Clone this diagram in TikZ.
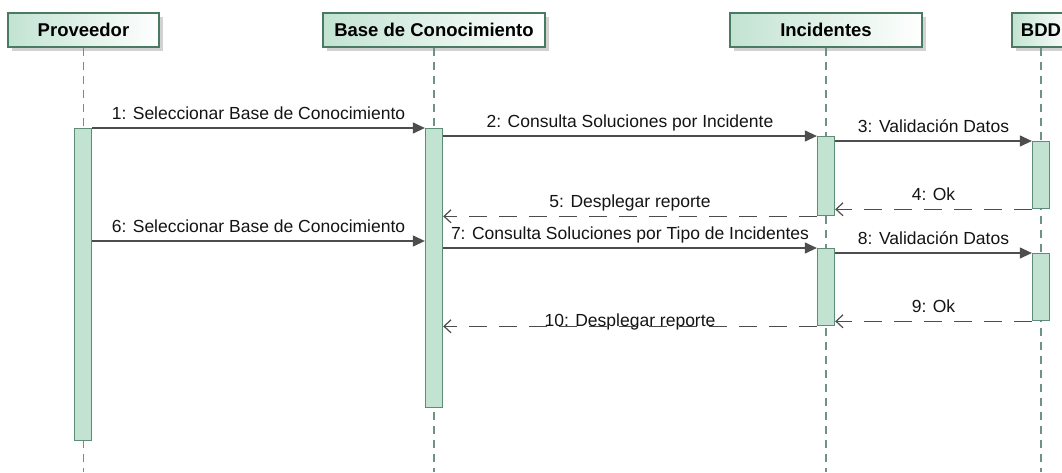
\documentclass[tikz,border=0pt]{standalone}
\usepackage{fontspec}
\setmainfont{Liberation Sans}
\usetikzlibrary{arrows.meta,shadows}
\definecolor{umlgreen}{HTML}{C2E3D2}
\definecolor{umlborder}{HTML}{4A7A64}
\definecolor{umlbar}{HTML}{5E8C77}
\definecolor{umllife}{HTML}{6E9284}
\definecolor{umlmsg}{HTML}{4D4D4D}
\begin{document}
\begin{tikzpicture}[
  x=1pt, y=-1pt,
  font={\fontsize{17.5}{20}\selectfont},
  head/.style={draw=umlborder, line width=1.4pt, left color=umlgreen, right color=white,
    minimum height=34pt, inner sep=0pt, font={\fontsize{18.5}{22}\selectfont\bfseries},
    drop shadow={shadow xshift=4pt, shadow yshift=-4pt, fill=black!35}},
  bar/.style={draw=umlbar, line width=1.3pt, fill=umlgreen, minimum width=17pt,
    inner sep=0pt, anchor=north},
  life/.style={umllife, line width=1.2pt, dash pattern=on 8pt off 6pt},
  call/.style={umlmsg, line width=1.2pt, -{Triangle[length=12pt,width=11pt]}},
  reply/.style={umlmsg, line width=1.2pt, dash pattern=on 18pt off 12pt,
    -{Straight Barb[length=7pt,width=13pt]}},
  lbl/.style={anchor=base, yshift=#1, text=black!92, inner sep=0pt},
  lbl/.default=9pt,
]
\useasboundingbox (0,0) rectangle (1062,472);
\clip (0,0) rectangle (1062,472);

\node[head, minimum width=151pt] (prov) at (83.5,30) {Proveedor};
\node[head, minimum width=222pt] (base) at (434,30) {Base de Conocimiento};
\node[head, minimum width=192pt] (inc) at (826,30) {Incidentes};
\node[head, minimum width=58pt] (bdd) at (1041,30) {BDD};

\coordinate (bottom) at (0,472);
\foreach \n in {prov,base,inc,bdd}
  \draw[life] (\n.south) -- (\n.south |- bottom);

\node[bar, minimum height=312pt] (barP) at (83,128) {};
\node[bar, minimum height=279pt] (barB) at (434,128) {};
\node[bar, minimum height=79pt] (barI1) at (826,136) {};
\node[bar, minimum height=77pt] (barI2) at (826,248) {};
\node[bar, minimum height=67pt] (barD1) at (1041,141) {};
\node[bar, minimum height=67pt] (barD2) at (1041,253) {};

\coordinate (m6) at (0,241);

\draw[call] (barP.north east) -- node[lbl] {1: Seleccionar Base de Conocimiento} (barB.north west);
\draw[call] (barB.east |- barI1.north) -- node[lbl] {2: Consulta Soluciones por Incidente} (barI1.north west);
\draw[call] (barI1.east |- barD1.north) -- node[lbl] {3: Validación Datos} (barD1.north west);
\draw[reply] (barD1.south west) -- node[lbl] {4: Ok} (barI1.east |- barD1.south);
\draw[reply] (barI1.south west) -- node[lbl] {5: Desplegar reporte} (barB.east |- barI1.south);
\draw[call] (barP.east |- m6) -- node[lbl] {6: Seleccionar Base de Conocimiento} (barB.west |- m6);
\draw[call] (barB.east |- barI2.north) -- node[lbl] {7: Consulta Soluciones por Tipo de Incidentes} (barI2.north west);
\draw[call] (barI2.east |- barD2.north) -- node[lbl] {8: Validación Datos} (barD2.north west);
\draw[reply] (barD2.south west) -- node[lbl] {9: Ok} (barI2.east |- barD2.south);
\draw[reply] (barI2.south west) -- node[lbl=0pt] {10: Desplegar reporte} (barB.east |- barI2.south);
\end{tikzpicture}
\end{document}
